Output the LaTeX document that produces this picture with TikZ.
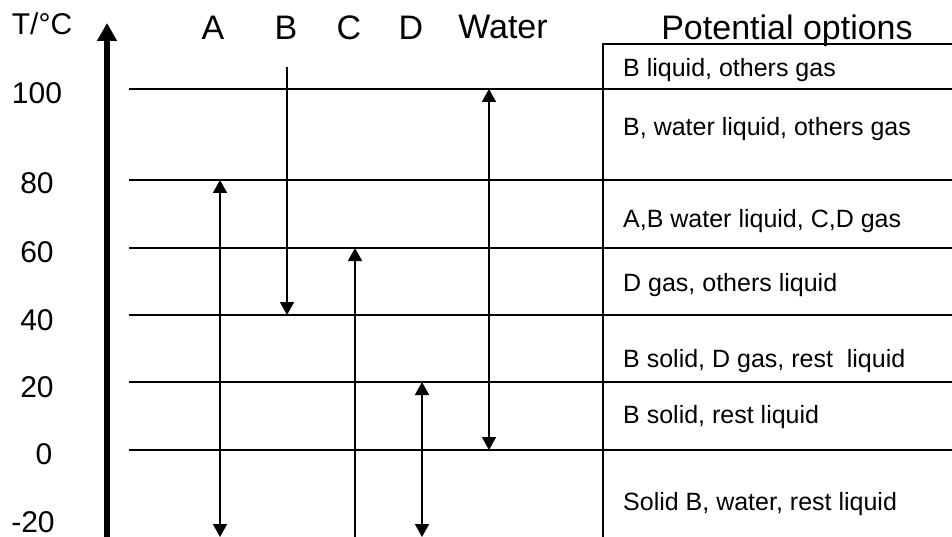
\documentclass[tikz,border=0pt]{standalone}
\usepackage{fontspec}
\setmainfont{Liberation Sans}
\usetikzlibrary{arrows.meta}
\begin{document}
\begin{tikzpicture}[x=1pt,y=-1pt,
  hline/.style={line width=2pt},
  varrow/.style={line width=1.7pt},
  tip/.tip={Triangle[length=13pt,width=14pt]},
  axislabel/.style={font=\fontsize{30}{34}\selectfont, anchor=base, inner sep=0pt},
  colhead/.style={font=\fontsize{34}{38}\selectfont, anchor=base, inner sep=0pt},
  opt/.style={font=\fontsize{25}{29}\selectfont, anchor=base west, inner sep=0pt}]
\useasboundingbox (0,0) rectangle (952,537);
% axis
\coordinate (ax0) at (107,537);
\coordinate (ax1) at (107,23);
\draw[line width=5.3pt,-{Triangle[length=18pt,width=19pt]}] (ax0) -- (ax1);
% axis labels
\node[axislabel] (tc) at (42,35) {T/\textdegree C};
\node[axislabel] (t100) at (37,104) {100};
\node[axislabel] (t80) at (37,194) {80};
\node[axislabel] (t60) at (37,262) {60};
\node[axislabel] (t40) at (37,330) {40};
\node[axislabel] (t20) at (37,397) {20};
\node[axislabel] (t0) at (44,464) {0};
\node[axislabel] (tm20) at (33,532) {-20};
% column headers
\node[colhead] (hA) at (213,40) {A};
\node[colhead] (hB) at (286,40) {B};
\node[colhead] (hC) at (349,40) {C};
\node[colhead] (hD) at (411,40) {D};
\node[colhead] (hW) at (503,39) {Water};
\node[colhead] (hP) at (787,40) {Potential options};
% horizontal lines
\foreach \n/\y in {100/89,80/180,60/248,40/315,20/382,0/450}{
  \coordinate (L\n) at (129,\y);
  \coordinate (R\n) at (952,\y);
  \draw[hline] (L\n) -- (R\n);
}
% table frame
\coordinate (tbl) at (603,44);
\coordinate (tbr) at (952,44);
\coordinate (tbb) at (603,537);
\draw[hline] (tbb) -- (tbl) -- (tbr);
% vertical arrows
\coordinate (A1) at (220,537); \coordinate (A2) at (220,180);
\draw[varrow,{tip}-{tip}] (A1) -- (A2);
\coordinate (B1) at (287,67); \coordinate (B2) at (287,315);
\draw[varrow,-{tip}] (B1) -- (B2);
\coordinate (C1) at (355,537); \coordinate (C2) at (355,248);
\draw[varrow,-{tip}] (C1) -- (C2);
\coordinate (D1) at (422,537); \coordinate (D2) at (422,382);
\draw[varrow,{tip}-{tip}] (D1) -- (D2);
\coordinate (W1) at (489,450); \coordinate (W2) at (489,89);
\draw[varrow,{tip}-{tip}] (W1) -- (W2);
% options text
\node[opt] (o1) at (623,77) {B liquid, others gas};
\node[opt] (o2) at (623,136) {B, water liquid, others gas};
\node[opt] (o3) at (623,228) {A,B water liquid, C,D gas};
\node[opt] (o4) at (623,291) {D gas, others liquid};
\node[opt] (o5) at (623,367) {B solid, D gas, rest\ \ liquid};
\node[opt] (o6) at (623,423) {B solid, rest liquid};
\node[opt] (o7) at (623,510) {Solid B, water, rest liquid};
\end{tikzpicture}
\end{document}
